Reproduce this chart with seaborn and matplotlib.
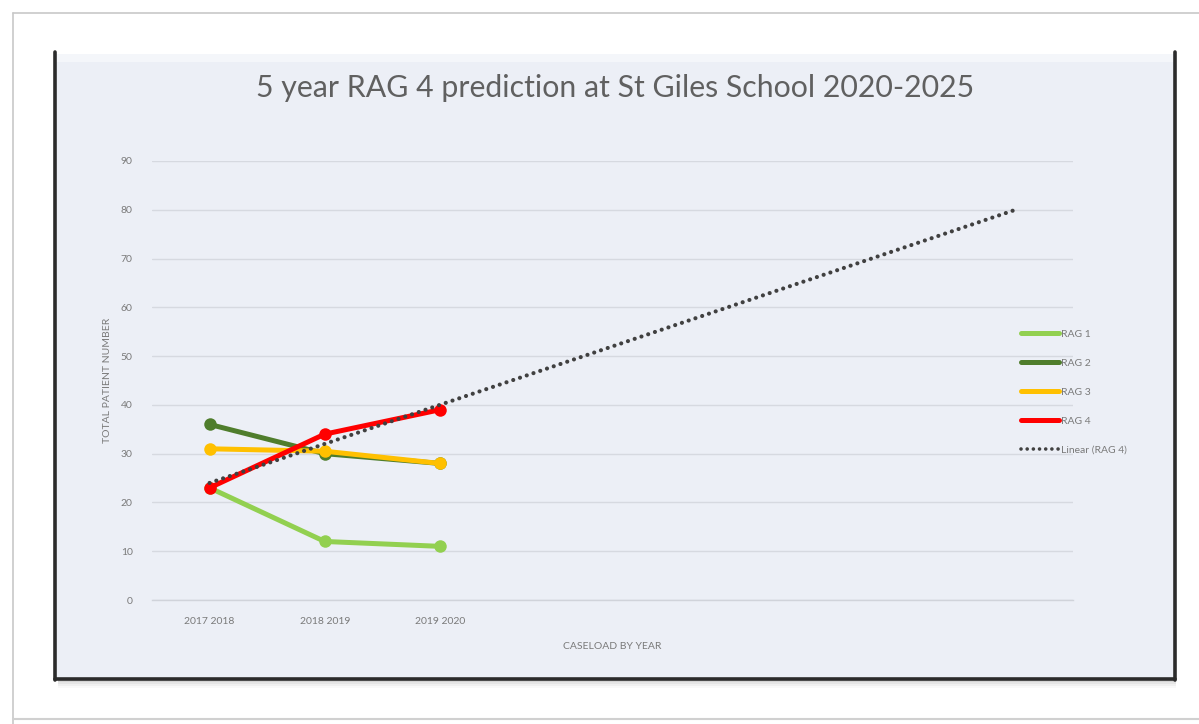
import numpy as np
import pandas as pd
import matplotlib
matplotlib.use("Agg")
import matplotlib.pyplot as plt
from matplotlib.patches import Rectangle
from matplotlib.lines import Line2D
import seaborn as sns

# ---- data ----
years = ["2017 2018", "2018 2019", "2019 2020"]
future_slots = ["", "", "", "", ""]          # unlabelled forecast periods
rag1 = [23, 12, 11]
rag2 = [36, 30, 28]
rag3 = [31, 30.5, 28]
rag4 = [23, 34, 39]
series_names = ["RAG 1", "RAG 2", "RAG 3", "RAG 4"]
series_colors = ["#92d050", "#4f7d2c", "#ffc000", "#ff0000"]
y_ticks = [0, 10, 20, 30, 40, 50, 60, 70, 80, 90]
title = "5 year RAG 4 prediction at St Giles School 2020-2025"

sns.set_theme(style="white")
plt.rcParams["font.family"] = ["Lato", "DejaVu Sans"]

W, H = 1199, 724
fig = plt.figure(figsize=(W / 100, H / 100), dpi=100)
fig.patch.set_facecolor("white")

def fx(px):
    return px / W

def fy(py):
    return 1 - py / H

# outer page frame
fig.add_artist(Line2D([fx(13), fx(13)], [fy(13), fy(724)], color="#c8c8c8", lw=1.2))
fig.add_artist(Line2D([fx(13), fx(1199)], [fy(13), fy(13)], color="#c8c8c8", lw=1.2))
fig.add_artist(Line2D([fx(13), fx(1199)], [fy(719), fy(719)], color="#d0d0d0", lw=1.5))

# chart panel with shadow and dark border
panel_bg = "#eceff6"
for i, a in enumerate([0.10, 0.07, 0.05, 0.03]):
    fig.add_artist(Rectangle((fx(58), fy(682 + 2 * i)), fx(1176 - 58), (2 * i + 3) / H,
                             facecolor="#555555", alpha=a, edgecolor="none", zorder=0))
fig.add_artist(Rectangle((fx(55), fy(679)), fx(1175 - 55), (679 - 62) / H,
                         facecolor=panel_bg, edgecolor="none", zorder=0))
fig.add_artist(Rectangle((fx(55), fy(62)), fx(1175 - 55), 8 / H,
                         facecolor="#f4f6fa", edgecolor="none", zorder=0))
for xs, ys in [([55, 55], [52, 680]), ([1175, 1175], [52, 680]), ([55, 1175], [679, 679])]:
    fig.add_artist(Line2D([fx(x) for x in xs], [fy(y) for y in ys], color="#2b2b2b", lw=2.6, zorder=1))

# plot area
ax = fig.add_axes([fx(152), fy(600), fx(1073 - 152), (600 - 161) / H])
ax.set_facecolor("none")

categories = years + future_slots
xpos = np.arange(len(years))
df = pd.DataFrame({
    "x": np.tile(xpos, len(series_names)),
    "value": rag1 + rag2 + rag3 + rag4,
    "series": np.repeat(series_names, len(years)),
})

# linear trend for RAG 4 extended across all periods
coef = np.polyfit(xpos, rag4, 1)
x_all = np.arange(len(categories))
trend = np.polyval(coef, x_all)

dotted = (0, (0.01, 1.7))

sns.lineplot(data=df, x="x", y="value", hue="series", hue_order=series_names,
             palette=series_colors, marker="o", markersize=9, markeredgewidth=0,
             linewidth=3.6, sort=False, ax=ax, legend=False, zorder=3)
ax.plot(x_all, trend, color="#404040", lw=3.0, linestyle=dotted,
        dash_capstyle="round", zorder=5)

ax.set_xlim(-0.5, len(categories) - 0.5)
ax.set_ylim(0, 90)
ax.set_yticks(y_ticks)
ax.set_yticklabels([str(v) for v in y_ticks])
ax.set_xticks(x_all)
ax.set_xticklabels(categories)
ax.tick_params(axis="both", length=0, labelsize=7.5, labelcolor="#7a7a7a")
ax.tick_params(axis="y", pad=14)
ax.tick_params(axis="x", pad=12)
ax.grid(axis="y", color="#d6d9e0", lw=1.0)
ax.grid(axis="x", visible=False)
for s in ["top", "right", "left"]:
    ax.spines[s].set_visible(False)
ax.spines["bottom"].set_color("#d0d3da")
ax.spines["bottom"].set_linewidth(1.0)

ax.set_xlabel("CASELOAD BY YEAR", fontsize=7.5, color="#7a7a7a", labelpad=12)
ax.set_ylabel("TOTAL PATIENT NUMBER", fontsize=7.5, color="#7a7a7a", labelpad=6)

fig.text(fx(615), fy(88), title, ha="center", va="center", fontsize=21.8, color="#606060")

# legend
handles = [Line2D([], [], color=c, lw=3.6) for c in series_colors]
handles.append(Line2D([], [], color="#404040", lw=2.6, linestyle=dotted, dash_capstyle="round"))
labels = series_names + ["Linear (RAG 4)"]
fig.legend(handles, labels, loc="upper left", bbox_to_anchor=(fx(1012), fy(320)),
           frameon=False, fontsize=7.5, labelcolor="#7a7a7a", handlelength=3.6,
           handletextpad=0.25, labelspacing=1.9)

fig.savefig("out.png", dpi=100, facecolor="white")
